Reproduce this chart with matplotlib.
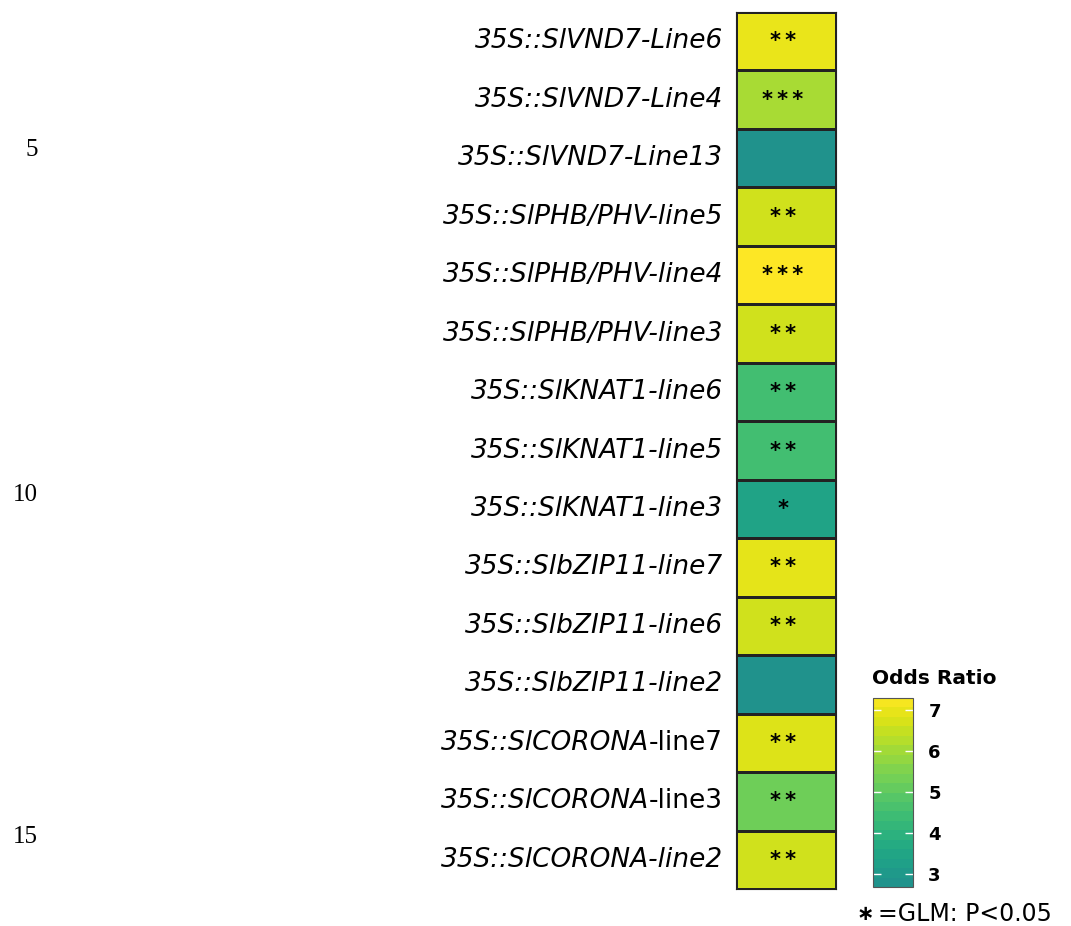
import numpy as np
import matplotlib
matplotlib.use("Agg")
import matplotlib.pyplot as plt
from matplotlib.colors import ListedColormap, Normalize
from matplotlib.cm import ScalarMappable

# transgenic lines, top to bottom; label split into (italic part, upright part)
lines = [
    ("35S::SlVND7-Line6", ""),
    ("35S::SlVND7-Line4", ""),
    ("35S::SlVND7-Line13", ""),
    ("35S::SlPHB/PHV-line5", ""),
    ("35S::SlPHB/PHV-line4", ""),
    ("35S::SlPHB/PHV-line3", ""),
    ("35S::SlKNAT1-line6", ""),
    ("35S::SlKNAT1-line5", ""),
    ("35S::SlKNAT1-line3", ""),
    ("35S::SlbZIP11-line7", ""),
    ("35S::SlbZIP11-line6", ""),
    ("35S::SlbZIP11-line2", ""),
    ("35S::SlCORONA", "-line7"),
    ("35S::SlCORONA", "-line3"),
    ("35S::SlCORONA-line2", ""),
]
odds_ratio = [7.0, 6.1, 2.72, 6.64, 7.29, 6.64, 4.5, 4.5, 3.42, 6.92, 6.64, 2.72, 6.8, 5.26, 6.64]
signif = ["**", "***", "", "**", "***", "**", "**", "**", "*", "**", "**", "", "**", "**", "**"]

cbar_ticks = [3, 4, 5, 6, 7]
vmin, vmax = 2.68, 7.29
margin_numbers = [("5", 150), ("10", 495), ("15", 837)]

# upper half of viridis
cmap = ListedColormap(plt.get_cmap("viridis")(np.linspace(0.5, 1.0, 256)))
norm = Normalize(vmin, vmax)

W, H = 1071, 926
fig = plt.figure(figsize=(W / 100, H / 100), dpi=100)

ax = fig.add_axes([736 / W, 1 - 889 / H, 100 / W, 877 / H])
data = np.array(odds_ratio).reshape(-1, 1)
ax.pcolormesh(data, cmap=cmap, norm=norm, edgecolor="#222222", linewidth=0.8)
ax.set_ylim(len(lines), 0)
ax.set_xlim(0, 1)
for s in ax.spines.values():
    s.set_color("#222222")
    s.set_linewidth(0.8)
ax.set_xticks([])
ax.set_yticks([])

# significance stars, a thin space between each
for i, st in enumerate(signif):
    if st:
        ax.text(0.47, i + 0.5, "\u2009".join(st), ha="center", va="center",
                fontsize=15, fontweight="bold", family="DejaVu Sans")

# row labels, italic with optional upright suffix
lab_font = dict(family="DejaVu Sans", fontsize=19)
for i, (it, up) in enumerate(lines):
    y = i + 0.5
    if up:
        t = ax.annotate(up, xy=(-0.13, y), xycoords=("axes fraction", "data"),
                        ha="right", va="center", **lab_font)
        ax.annotate(it, xy=(0, 0), xycoords=t, ha="right", va="bottom",
                    style="italic", **lab_font)
    else:
        ax.annotate(it, xy=(-0.13, y), xycoords=("axes fraction", "data"),
                    ha="right", va="center", style="italic", **lab_font)

# colour bar, banded
cax = fig.add_axes([873 / W, 1 - 887 / H, 40 / W, 189 / H])
bounds = np.linspace(vmin, vmax, 21)
sm = ScalarMappable(norm=norm, cmap=cmap)
cb = fig.colorbar(sm, cax=cax, boundaries=bounds, ticks=cbar_ticks)
cb.outline.set_edgecolor("#555555")
cb.outline.set_linewidth(0.8)
cax.tick_params(direction="in", color="white", left=True, right=True,
                length=6, width=1, labelsize=13, pad=11)
for lab in cax.get_yticklabels():
    lab.set_family("DejaVu Sans")
    lab.set_fontweight("bold")
cax.set_title("Odds Ratio", loc="left", fontsize=14.5, fontweight="bold",
              family="DejaVu Sans", pad=10, x=-0.03)

fig.text(857 / W, 1 - 914 / H, "\u2217", fontsize=15, fontweight="bold",
         family="DejaVu Sans", va="center", ha="left")
fig.text(878 / W, 1 - 914 / H, "=GLM: P<0.05", fontsize=17,
         family="DejaVu Sans", va="center", ha="left")

for num, ypx in margin_numbers:
    fig.text(38 / W, 1 - ypx / H, num, fontsize=18, family="Liberation Serif",
             ha="right", va="center")

fig.savefig("out.png", dpi=100)
